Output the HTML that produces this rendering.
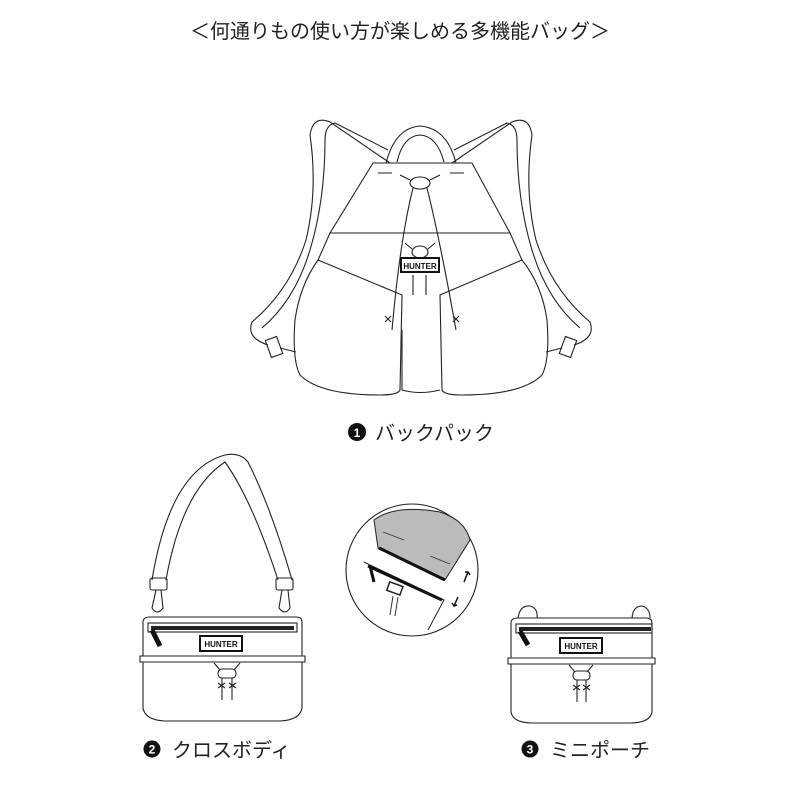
<!DOCTYPE html>
<html><head><meta charset="utf-8"><style>
body{margin:0;background:#fff;width:800px;height:800px;overflow:hidden}
svg{display:block}
text{font-family:"Liberation Sans","Noto Sans CJK JP",sans-serif}
</style></head><body>
<svg width="800" height="800" viewBox="0 0 800 800" xmlns="http://www.w3.org/2000/svg">
<text x="400" y="38" text-anchor="middle" font-size="20" fill="#222">＜何通りもの使い方が楽しめる多機能バッグ＞</text>

<g fill="none" stroke="#222" stroke-width="1.1">
<path d="M390,163 L330,122 Q313,115 310,135 Q318,190 306,240 Q290,290 252,322 Q246,338 268,345"/>
<path d="M388,150 L335,123 Q325,125 325,140 Q325,200 310,250 Q295,300 262,328"/>
<path d="M452,163 L512,122 Q529,115 532,135 Q524,190 536,240 Q552,290 590,322 Q596,338 574,345"/>
<path d="M454,150 L507,123 Q517,125 517,140 Q517,200 532,250 Q547,300 580,328"/>
<rect x="268" y="338" width="12" height="18" transform="rotate(-20 274 347)"/>
<rect x="562" y="338" width="12" height="18" transform="rotate(20 568 347)"/>
<path d="M280,348 L296,352 M562,348 L546,352"/>
<path d="M386,163 Q395,128 420,126 Q447,128 456,163"/>
<path d="M397,162 Q403,136 420,135 Q437,136 444,162"/>
<path d="M373,163 L472,163 L510,233 L330,233 Z"/>
<path d="M378,173 L392,173 M450,173 L464,173"/>
<path d="M330,233 L318,260 M510,233 L522,260"/>
<ellipse cx="420" cy="183" rx="10" ry="6"/>
<path d="M410,180 L400,175 M430,180 L440,175"/>
<path d="M413,188 Q400,240 392,330 M427,188 Q440,240 456,330"/>
<ellipse cx="420" cy="252" rx="8" ry="6"/>
<path d="M412,249 L405,243 M428,249 L435,243"/>
<path d="M413,275 L413,295 M426,275 L426,295"/>
<path d="M318,260 L402,295 L400,390 Q398,395 380,395 Q320,395 300,375 Q292,360 295,320 Q300,285 318,260 Z"/>
<path d="M522,260 L440,295 L442,390 Q444,395 462,395 Q522,395 542,375 Q550,360 547,320 Q542,285 522,260 Z"/>
<path d="M402,330 L402,390 Q420,395 440,390"/>
<path d="M385,316 L391,322 M391,316 L385,322 M453,316 L459,322 M459,316 L453,322"/>
</g>
<rect x="401" y="258" width="38" height="14" fill="#fff" stroke="#111" stroke-width="2"/>
<text x="420" y="269" text-anchor="middle" font-size="8" font-weight="bold" fill="#111">HUNTER</text>

<circle cx="357" cy="432" r="9" fill="#111"/>
<text x="357" y="437" text-anchor="middle" font-size="12" font-weight="bold" fill="#fff">1</text>
<text x="375" y="440" font-size="20" fill="#222">バックパック</text>

<g fill="none" stroke="#222" stroke-width="1.1">
<path d="M152,580 Q170,470 225,455 Q240,452 248,462 Q272,510 292,580"/>
<path d="M166,580 Q182,490 225,462 Q252,500 278,580"/>
<rect x="150" y="578" width="17" height="12" rx="2"/>
<rect x="276" y="578" width="17" height="12" rx="2"/>
<path d="M156,590 L152,608 Q157,616 163,608 L161,590 M282,590 L279,608 Q285,616 290,608 L288,590"/>
<path d="M143,622 Q143,617 150,617 L296,617 Q302,617 302,622 L302,656 L143,656 Z"/>
<path d="M140,656 L305,656 L305,662 L140,662 Z"/>
<path d="M143,662 L143,708 Q145,720 165,721 L280,721 Q300,720 302,708 L302,662"/>
<rect x="148" y="623" width="149" height="9"/>
<path d="M214,663 L220,670 M240,663 L234,670"/>
<rect x="218" y="669" width="18" height="9" rx="4"/>
<path d="M222,678 L222,700 M232,678 L232,700 M218,683 L225,688 M225,683 L218,688 M229,683 L236,688 M236,683 L229,688"/>
</g>
<rect x="151" y="626" width="143" height="4" fill="#222"/>
<path d="M152,630 L160,646" stroke="#111" stroke-width="5"/>
<rect x="200" y="636" width="42" height="15" fill="#fff" stroke="#111" stroke-width="2"/>
<text x="221" y="647" text-anchor="middle" font-size="8" font-weight="bold" fill="#111">HUNTER</text>

<circle cx="412" cy="570" r="66" fill="none" stroke="#222" stroke-width="1.1"/>
<path d="M374,520 Q395,504 440,512 Q465,520 470,540 L445,580 L378,548 Z" fill="#bbb" stroke="#222" stroke-width="1"/>
<path d="M379,548 L445,580" stroke="#111" stroke-width="3"/>
<path d="M383,532 L404,540 M430,556 L450,564" stroke="#333" stroke-width="0.8"/>
<path d="M364,562 L370,565 L444,600 L428,630" fill="none" stroke="#222" stroke-width="1"/>
<path d="M368,566 L442,600" stroke="#111" stroke-width="3"/>
<path d="M370,566 L374,582" stroke="#111" stroke-width="3"/>
<rect x="388" y="584" width="14" height="9" fill="#fff" stroke="#222" stroke-width="1.5" transform="rotate(20 395 588)"/>
<path d="M393,596 L390,615 M398,597 L395,616" stroke="#222" stroke-width="0.9"/>
<path d="M464,582 L468,572 M465,572 L468,572 L470,575" stroke="#111" stroke-width="1.5" fill="none"/>
<path d="M458,597 L454,606 M452,603 L454,606 L457,605" stroke="#111" stroke-width="1.5" fill="none"/>

<g fill="none" stroke="#222" stroke-width="1.1">
<path d="M518,618 Q520,605 530,606 Q538,608 537,618 M632,618 Q633,606 642,606 Q650,608 650,618"/>
<path d="M511,623 Q511,618 518,618 L646,618 Q652,618 652,623 L652,658 L511,658 Z"/>
<path d="M508,658 L655,658 L655,664 L508,664 Z"/>
<path d="M511,664 L511,712 Q513,723 533,723 L630,723 Q650,723 652,712 L652,664"/>
<rect x="516" y="624" width="136" height="9"/>
<path d="M569,665 L575,672 M593,665 L587,672"/>
<rect x="573" y="671" width="17" height="9" rx="4"/>
<path d="M577,680 L577,702 M586,680 L586,702 M573,685 L580,690 M580,685 L573,690 M583,685 L590,690 M590,685 L583,690"/>
</g>
<rect x="519" y="627" width="132" height="4" fill="#222"/>
<path d="M520,631 L528,645" stroke="#111" stroke-width="5"/>
<rect x="560" y="638" width="42" height="15" fill="#fff" stroke="#111" stroke-width="2"/>
<text x="581" y="649" text-anchor="middle" font-size="8" font-weight="bold" fill="#111">HUNTER</text>

<circle cx="152" cy="749" r="8.5" fill="#111"/>
<text x="152" y="753.5" text-anchor="middle" font-size="12" font-weight="bold" fill="#fff">2</text>
<text x="172" y="757" font-size="20" fill="#222">クロスボディ</text>
<circle cx="530" cy="749" r="8.5" fill="#111"/>
<text x="530" y="753.5" text-anchor="middle" font-size="12" font-weight="bold" fill="#fff">3</text>
<text x="550" y="757" font-size="20" fill="#222">ミニポーチ</text>
</svg>
</body></html>
